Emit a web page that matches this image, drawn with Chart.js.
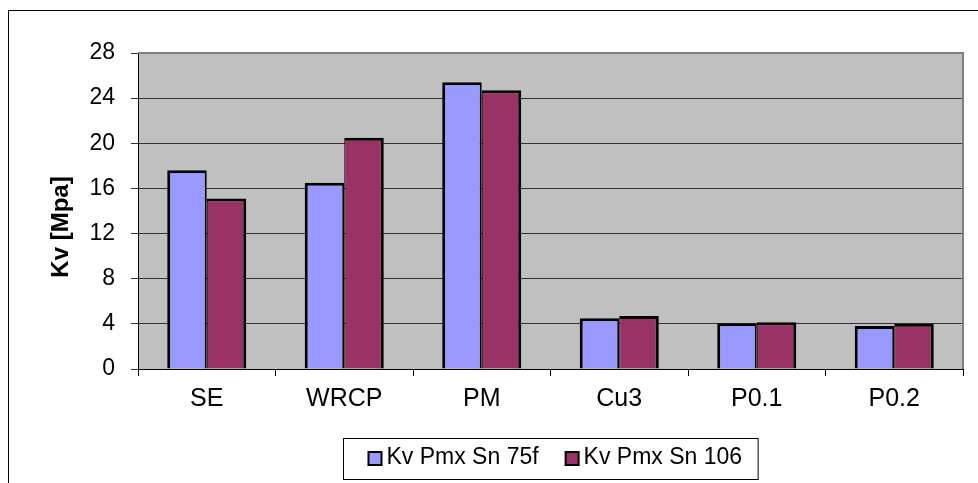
<!DOCTYPE html>
<html>
<head>
<meta charset="utf-8">
<script src="https://cdn.jsdelivr.net/npm/chart.js@4/dist/chart.umd.min.js"></script>
<style>
  html, body { margin:0; padding:0; background:#fff; }
  #wrap { width:978px; height:483px; }
</style>
</head>
<body>
<div id="wrap"><canvas id="grafico" width="978" height="483"></canvas></div>
<script>
// dados
let categorias = ["SE", "WRCP", "PM", "Cu3", "P0.1", "P0.2"];
let serie75f = [17.6, 16.5, 25.4, 4.5, 4.05, 3.8];
let serie106 = [15.1, 20.5, 24.7, 4.7, 4.15, 4.0];
let nomes = ["Kv Pmx Sn 75f", "Kv Pmx Sn 106"];
let cores = ["#9999FF", "#993366"];
let tituloY = "Kv [Mpa]";
let yMin = 0, yMax = 28, yPasso = 4;

const fonte = "'Liberation Sans', Arial, sans-serif";

// fundo cinza, moldura, titulo do eixo e legenda com caixa
const extras = {
  id: "extras",
  beforeDraw(chart){
    const ctx = chart.ctx, a = chart.chartArea;
    ctx.save();
    ctx.fillStyle = "#fff";
    ctx.fillRect(0, 0, chart.width, chart.height);
    ctx.strokeStyle = "#000";
    ctx.lineWidth = 1;
    ctx.strokeRect(8.5, 10.5, 2000, 2000);
    ctx.fillStyle = "#C0C0C0";
    ctx.fillRect(a.left, a.top, a.right - a.left, a.bottom - a.top);
    ctx.restore();
  },
  afterDatasetsDraw(chart){
    const ctx = chart.ctx, a = chart.chartArea;
    ctx.save();
    ctx.strokeStyle = "#808080";
    ctx.lineWidth = 2;
    ctx.beginPath();
    ctx.moveTo(a.left, a.top);
    ctx.lineTo(a.right, a.top);
    ctx.lineTo(a.right, a.bottom);
    ctx.stroke();
    ctx.restore();
  },
  afterDraw(chart){
    const ctx = chart.ctx, a = chart.chartArea;
    const ds = chart.data.datasets;
    ctx.save();

    // titulo do eixo y
    ctx.save();
    ctx.translate(61, (a.top + a.bottom) / 2 + 16);
    ctx.rotate(-Math.PI / 2);
    ctx.font = "bold 24px " + fonte;
    ctx.fillStyle = "#000";
    ctx.textAlign = "center";
    ctx.textBaseline = "middle";
    ctx.fillText(tituloY, 0, 0);
    ctx.restore();

    // legenda
    ctx.font = "23px " + fonte;
    const q = 13, gapTxt = 5, gapItem = 27, padL = 25, padR = 16;
    let larg = padL + padR;
    ds.forEach((d, i) => {
      larg += q + gapTxt + ctx.measureText(d.label).width;
      if(i < ds.length - 1) larg += gapItem;
    });
    const cx = (a.left + a.right) / 2;
    const x0 = Math.round(cx - larg / 2) + 0.5;
    const y0 = 438.5, alt = 41;
    ctx.fillStyle = "#fff";
    ctx.fillRect(x0, y0, larg, alt);
    ctx.strokeStyle = "#000";
    ctx.lineWidth = 1;
    ctx.strokeRect(x0, y0, larg, alt);
    let x = x0 + padL;
    ds.forEach((d) => {
      ctx.fillStyle = d.backgroundColor;
      ctx.fillRect(x, 452, q, q);
      ctx.strokeStyle = "#000";
      ctx.lineWidth = 2;
      ctx.strokeRect(x, 452, q, q);
      x += q + gapTxt;
      ctx.fillStyle = "#000";
      ctx.textBaseline = "alphabetic";
      ctx.fillText(d.label, x, 464);
      x += ctx.measureText(d.label).width + gapItem;
    });
    ctx.restore();
  }
};

const chart = new Chart(document.getElementById("grafico"), {
  type: "bar",
  data: {
    labels: categorias,
    datasets: [
      { label: nomes[0], data: serie75f, backgroundColor: cores[0], borderColor: "#000",
        borderWidth: { top: 3, left: 3, right: 2, bottom: 0 }, inflateAmount: 0 },
      { label: nomes[1], data: serie106, backgroundColor: cores[1], borderColor: "#000",
        borderWidth: { top: 3, left: 1, right: 3, bottom: 0 }, inflateAmount: 0 }
    ]
  },
  options: {
    responsive: false,
    animation: false,
    devicePixelRatio: 1,
    categoryPercentage: 0.575,
    barPercentage: 1,
    layout: { padding: { top: 53, right: 15, left: 0, bottom: 0 } },
    plugins: { legend: { display: false }, tooltip: { enabled: false } },
    scales: {
      x: {
        afterFit(s){ s.height = 114; },
        grid: { offset: true, drawOnChartArea: false, color: "#000", tickLength: 7 },
        border: { color: "#000", width: 1 },
        ticks: { color: "#000", font: { family: fonte, size: 25 }, padding: 8 }
      },
      y: {
        min: yMin, max: yMax,
        afterFit(s){ s.width = 138; },
        grid: { color: "#333", lineWidth: 1, tickLength: 7 },
        border: { color: "#000", width: 1 },
        ticks: { stepSize: yPasso, color: "#000", font: { family: fonte, size: 23 }, padding: 16 }
      }
    }
  },
  plugins: [extras]
});
</script>
</body>
</html>
